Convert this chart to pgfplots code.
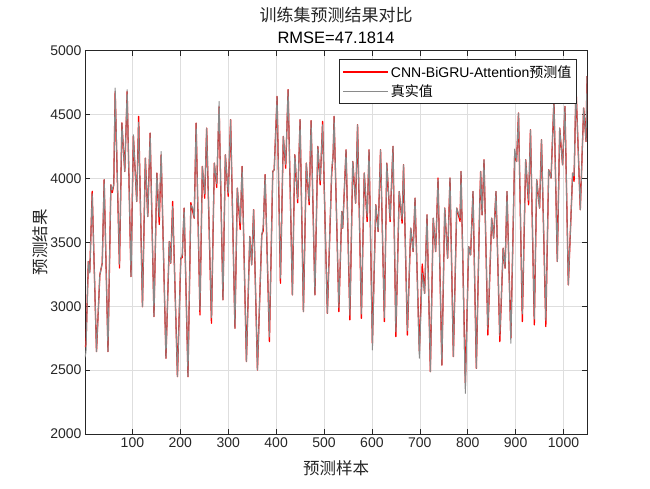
\documentclass[border=0pt]{standalone}
\usepackage{pgfplots}
\usepackage{pgfplotstable}
\pgfplotsset{compat=1.18}
\usepackage{fontspec}
\setmainfont{Liberation Sans}
\newfontfamily\cjk{Noto Sans CJK SC}
\definecolor{axgray}{HTML}{262626}
\definecolor{gridgray}{HTML}{DEDEDE}
\definecolor{truegray}{HTML}{8A8A8A}
\pgfplotstableread{
x g r
1 2600 2680
3 2640 2700
8 3350 3350
11 3260 3270
16 3880 3900
25 2645 2645
32 3245 3245
37 3337 3337
41 3990 3990
49 2645 2645
55 3950 3950
58 3910 3890
61 3950 3950
64 4708 4680
73 3330 3300
78 4434 4434
84 4055 4055
89 4695 4680
97 3232 3232
102 4342 4330
109 3820 3820
113 4440 4486
121 2997 2997
127 4159 4159
132 3702 3702
137 4355 4355
145 2919 2919
151 4042 4042
156 3700 3640
160 4211 4185
170 2593 2593
177 3506 3506
180 3337 3337
184 3780 3820
194 2449 2449
201 3376 3376
204 3402 3380
208 3768 3768
216 2449 2449
222 3794 3810
226 3768 3740
229 3689 3689
233 4433 4433
241 2970 2932
246 4094 4094
251 3880 3846
255 4394 4394
265 2910 2867
271 4120 4120
276 3960 3930
281 4603 4560
289 3050 3050
294 4185 4185
300 3885 3860
305 4460 4460
314 2828 2828
319 3924 3924
325 3650 3600
329 4094 4094
338 2567 2567
345 3546 3546
349 3324 3324
353 3755 3755
361 2501 2501
370 3559 3559
373 3620 3590
377 4029 4029
386 2760 2723
393 4055 4055
396 4068 4068
402 4642 4642
409 3220 3180
415 4329 4329
420 4110 4080
425 4695 4695
434 3089 3089
439 4185 4185
445 3840 3810
450 4460 4460
457 2958 2958
463 4120 4120
469 3820 3794
473 4452 4452
481 3089 3089
487 4251 4251
492 3980 3950
497 4420 4447
507 2945 2945
516 4068 4040
519 4185 4185
521 4486 4486
531 2990 2958
537 3741 3741
539 3611 3611
546 4224 4224
554 2930 2893
560 4133 4133
566 3807 3807
570 4420 4420
578 2940 2906
584 4042 4042
590 3700 3663
594 4224 4224
601 2658 2710
608 3794 3794
613 3585 3585
618 4224 4224
626 2910 2880
631 4120 4120
638 3680 3663
644 4251 4251
650 2800 2762
657 3898 3898
663 3680 3650
666 4107 4107
674 2810 2775
681 3611 3611
686 3428 3428
690 3846 3846
699 2593 2650
705 3260 3330
710 3100 3100
715 3715 3715
722 2488 2488
728 3689 3689
733 3428 3428
738 3990 4003
746 2540 2540
752 3768 3768
758 3376 3376
763 4003 4003
770 2606 2606
777 3768 3768
784 3690 3663
786 4055 4055
795 2318 2400
802 3467 3467
806 3402 3402
811 3898 3898
818 2514 2514
825 3794 3794
827 4055 4055
830 3715 3715
834 4146 4146
842 2820 2775
850 3689 3689
854 3533 3533
859 3898 3898
867 2770 2723
874 3454 3454
878 3298 3298
882 3898 3898
890 2710 2750
898 4230 4185
902 4133 4133
906 4512 4512
914 2940 2880
921 4146 4146
927 3830 3794
931 4381 4381
939 2900 2854
944 3990 3990
950 3768 3768
954 4303 4303
963 2890 2841
969 4068 4068
974 4003 4003
980 4616 4616
987 3350 3350
992 4394 4394
998 4107 4107
1003 4564 4564
1010 3167 3167
1019 4042 4042
1022 4020 3977
1026 4721 4721
1035 3755 3755
1042 4551 4551
1047 4290 4290
1049 4800 4800
}\datatable
\begin{document}
\begin{tikzpicture}
\useasboundingbox (-85pt,-54pt) rectangle (565pt,434pt);
\begin{axis}[
  at={(0pt,0pt)}, anchor=south west,
  scale only axis, width=502pt, height=383.3pt,
  xmin=1, xmax=1049, ymin=2000, ymax=5000,
  xtick={100,200,...,1000}, ytick={2000,2500,...,5000},
  scaled ticks=false,
  /pgf/number format/1000 sep={},
  /pgf/number format/assume math mode=true,
  tick label style={font=\fontsize{14}{16}\selectfont, text=axgray},
  tick align=inside, major tick length=5pt,
  tick style={axgray, line width=0.6pt},
  axis line style={axgray, line width=0.6pt},
  grid=major, major grid style={gridgray, line width=0.5pt},
  legend style={font=\fontsize{14}{16}\selectfont, draw=axgray, line width=0.6pt, fill=white,
    at={(0.9795,0.978)}, anchor=north east, inner xsep=3pt, inner ysep=4pt,
    row sep=1.5pt, cells={anchor=west}},
  legend cell align=left,
]
\addplot[red, line width=1.3pt, line join=round, legend image code/.code={\draw[red, line width=1.6pt] (0pt,0pt) -- (45pt,0pt);}] table[x=x, y=r] {\datatable};
\addlegendentry{CNN-BiGRU-Attention{\cjk 预测值}}
\addplot[truegray, line width=1.0pt, line join=round, legend image code/.code={\draw[truegray, line width=0.6pt] (0pt,0pt) -- (45pt,0pt);}] table[x=x, y=g] {\datatable};
\addlegendentry{{\cjk 真实值}}
\end{axis}
\node[font=\cjk\fontsize{17}{19}\selectfont, text=axgray] at (251pt,419pt) {训练集预测结果对比};
\node[font=\fontsize{16.5}{18}\selectfont] at (251pt,396pt) {RMSE=47.1814};
\node[font=\cjk\fontsize{16.5}{18}\selectfont, text=axgray] at (251pt,-34pt) {预测样本};
\node[font=\cjk\fontsize{16.5}{18}\selectfont, text=axgray, rotate=90] at (-45pt,191.6pt) {预测结果};
\end{tikzpicture}
\end{document}
